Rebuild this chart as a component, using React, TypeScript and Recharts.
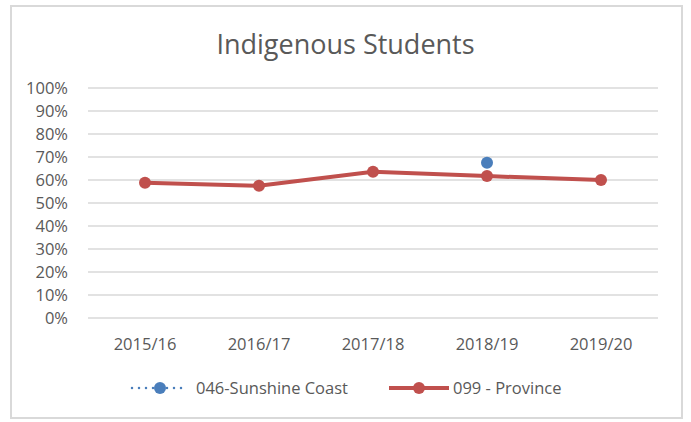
import React from "react";
import { LineChart, Line, XAxis, YAxis, CartesianGrid } from "recharts";

const categories = ["2015/16", "2016/17", "2017/18", "2018/19", "2019/20"];
const sunshineCoast: (number | null)[] = [null, null, null, 0.675, null];
const province = [0.588, 0.575, 0.636, 0.617, 0.6];
const yTicks = [0, 0.1, 0.2, 0.3, 0.4, 0.5, 0.6, 0.7, 0.8, 0.9, 1];

const data = categories.map((c, i) => ({
  cat: c,
  sc: sunshineCoast[i],
  prov: province[i],
}));

const FONT = "'Open Sans', 'Liberation Sans', sans-serif";
const BLUE = "#4a7ebb";
const RED = "#c0504d";

const LegendBox = () => (
  <div style={{ position: "absolute", left: 0, top: 378, width: 691, height: 20, fontFamily: FONT, fontSize: 16.5, color: "#595959" }}>
    <svg width={60} height={20} style={{ position: "absolute", left: 130, top: 0 }}>
      <line x1={2} y1={10} x2={58} y2={10} stroke={BLUE} strokeWidth={2.5} strokeDasharray="0 7" strokeLinecap="round" />
      <circle cx={30} cy={10} r={6} fill={BLUE} />
    </svg>
    <span style={{ position: "absolute", left: 196, top: 0, lineHeight: "20px", whiteSpace: "nowrap" }}>046-Sunshine Coast</span>
    <svg width={62} height={20} style={{ position: "absolute", left: 388, top: 0 }}>
      <line x1={1} y1={10} x2={61} y2={10} stroke={RED} strokeWidth={4} />
      <circle cx={31} cy={10} r={6} fill={RED} />
    </svg>
    <span style={{ position: "absolute", left: 453, top: 0, lineHeight: "20px", whiteSpace: "nowrap" }}>099 - Province</span>
  </div>
);

export default function App() {
  return (
    <div style={{ position: "absolute", left: 0, top: 0, width: 691, height: 422, background: "#fff" }}>
      <div
        style={{
          position: "absolute",
          left: 10,
          top: 5,
          width: 669,
          height: 410,
          border: "2px solid #d9d9d9",
        }}
      />
      <div
        style={{
          position: "absolute",
          left: 0,
          width: 691,
          top: 26,
          textAlign: "center",
          fontFamily: FONT,
          fontSize: 27,
          color: "#595959",
          lineHeight: "36px",
        }}
      >
        Indigenous Students
      </div>
      <div style={{ position: "absolute", left: 0, top: 0 }}>
        <LineChart width={691} height={422} data={data} margin={{ top: 88, right: 33, bottom: 74, left: 28 }}>
          <CartesianGrid vertical={false} stroke="#d9d9d9" strokeWidth={1.5} />
          <XAxis
            dataKey="cat"
            scale="band"
            axisLine={false}
            tickLine={false}
            tick={{ fill: "#595959", fontSize: 16.5, fontFamily: FONT }}
            tickMargin={14}
            height={30}
          />
          <YAxis
            domain={[0, 1]}
            ticks={yTicks}
            interval={0}
            axisLine={false}
            tickLine={false}
            tickFormatter={(v: number) => `${Math.round(v * 100)}%`}
            tick={{ fill: "#595959", fontSize: 16.5, fontFamily: FONT }}
            tickMargin={14}
            width={60}
          />
          <Line
            dataKey="sc"
            name="046-Sunshine Coast"
            stroke={BLUE}
            strokeWidth={2.5}
            strokeDasharray="0 6"
            dot={{ r: 6, fill: BLUE, stroke: BLUE, strokeWidth: 0 }}
            isAnimationActive={false}
          />
          <Line
            dataKey="prov"
            name="099 - Province"
            stroke={RED}
            strokeWidth={4}
            dot={{ r: 6, fill: RED, stroke: RED, strokeWidth: 0 }}
            isAnimationActive={false}
          />
        </LineChart>
      </div>
      <LegendBox />
    </div>
  );
}
